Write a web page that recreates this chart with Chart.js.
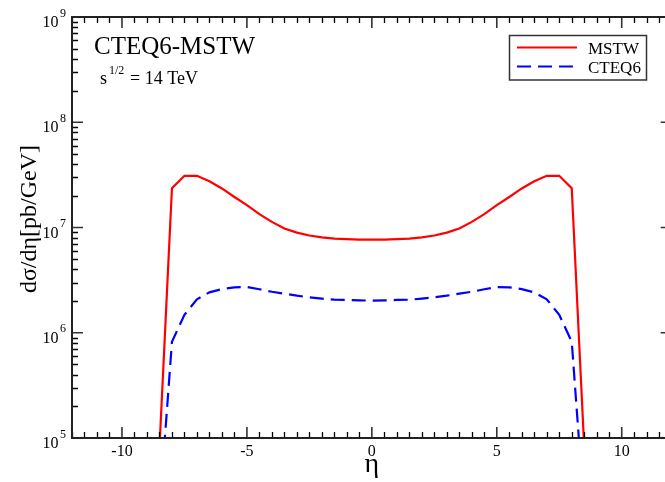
<!DOCTYPE html>
<html>
<head>
<meta charset="utf-8">
<script src="https://cdn.jsdelivr.net/npm/chart.js@4/dist/chart.umd.min.js"></script>
<style>
  html, body { margin: 0; padding: 0; background: #fff; overflow: hidden; }
  #wrap { width: 680px; height: 482px; }
</style>
</head>
<body>
<div id="wrap"><canvas id="xsec" width="680" height="482"></canvas></div>
<script>
// pseudorapidity grid and d(sigma)/d(eta) in pb/GeV
var eta = [-8.5, -8, -7.5, -7, -6.5, -6, -5.5, -5, -4.5, -4, -3.5, -3, -2.5, -2, -1.5, -1, -0.5, 0,
           0.5, 1, 1.5, 2, 2.5, 3, 3.5, 4, 4.5, 5, 5.5, 6, 6.5, 7, 7.5, 8, 8.5];
var mstw = [8e4, 2.36e7, 3.1e7, 3.1e7, 2.75e7, 2.35e7, 1.95e7, 1.63e7, 1.34e7, 1.13e7, 9.8e6, 8.95e6, 8.4e6, 8.05e6, 7.85e6, 7.75e6, 7.68e6, 7.66e6,
            7.68e6, 7.75e6, 7.85e6, 8.05e6, 8.4e6, 8.95e6, 9.8e6, 1.13e7, 1.34e7, 1.63e7, 1.95e7, 2.35e7, 2.75e7, 3.1e7, 3.1e7, 2.36e7, 8e4];
var cteq6 = [2e4, 8.2e5, 1.48e6, 2.08e6, 2.42e6, 2.6e6, 2.7e6, 2.72e6, 2.59e6, 2.45e6, 2.35e6, 2.25e6, 2.17e6, 2.11e6, 2.06e6, 2.05e6, 2.03e6, 2.02e6,
             2.03e6, 2.05e6, 2.06e6, 2.11e6, 2.17e6, 2.25e6, 2.35e6, 2.45e6, 2.59e6, 2.72e6, 2.7e6, 2.6e6, 2.42e6, 2.08e6, 1.48e6, 8.2e5, 2e4];

var xLabels = [-10, -5, 0, 5, 10];
var yDecades = [5, 6, 7, 8, 9];
var seriesNames = ['MSTW', 'CTEQ6'];

var SERIF = '"Liberation Serif", "Times New Roman", serif';

function points(ys) {
  return eta.map(function (x, i) { return { x: x, y: ys[i] }; });
}

// frame with inward ticks on all four sides, tick labels, titles and legend
var grace = {
  id: 'grace',
  afterDatasetsDraw: function (chart) {
    var ctx = chart.ctx, a = chart.chartArea;
    var xs = chart.scales.x, ys = chart.scales.y;
    ctx.save();

    function tickX(px, len) {
      ctx.beginPath();
      ctx.moveTo(px, a.bottom); ctx.lineTo(px, a.bottom - len);
      ctx.moveTo(px, a.top); ctx.lineTo(px, a.top + len);
      ctx.stroke();
    }
    function tickY(py, len) {
      ctx.beginPath();
      ctx.moveTo(a.left, py); ctx.lineTo(a.left + len, py);
      ctx.moveTo(a.right, py); ctx.lineTo(a.right - len, py);
      ctx.stroke();
    }

    ctx.strokeStyle = '#000';
    ctx.lineWidth = 1.3;
    for (var k = -24; k <= 24; k++) {
      if (k % 10 === 0) continue;
      tickX(Math.round(xs.getPixelForValue(k / 2)) + 0.5, 6);
    }
    for (var d = 5; d < 9; d++) {
      for (var m = 2; m <= 9; m++) {
        tickY(Math.round(ys.getPixelForValue(m * Math.pow(10, d))) + 0.5, 6);
      }
    }
    ctx.strokeStyle = '#333';
    ctx.lineWidth = 1.6;
    for (var j = -10; j <= 10; j += 5) tickX(xs.getPixelForValue(j), 11);
    yDecades.forEach(function (e) { tickY(ys.getPixelForValue(Math.pow(10, e)), 11); });

    ctx.strokeStyle = '#222';
    ctx.lineWidth = 2;
    ctx.strokeRect(a.left, a.top, a.right - a.left, a.bottom - a.top);

    ctx.fillStyle = '#000';
    ctx.font = '16px ' + SERIF;
    ctx.textAlign = 'center';
    ctx.textBaseline = 'alphabetic';
    xLabels.forEach(function (v) {
      ctx.fillText(v < 0 ? '-' + (-v) : String(v), xs.getPixelForValue(v), 455.5);
    });

    yDecades.forEach(function (e) {
      var py = ys.getPixelForValue(Math.pow(10, e));
      ctx.font = '16px ' + SERIF;
      ctx.textAlign = 'right';
      ctx.fillText('10', 58.5, py + 10);
      ctx.font = '12px ' + SERIF;
      ctx.textAlign = 'left';
      ctx.fillText(String(e), 60, py - 0.5);
    });

    ctx.font = '28px ' + SERIF;
    ctx.textAlign = 'center';
    ctx.fillText('\u03b7', xs.getPixelForValue(0), 472);

    ctx.save();
    ctx.translate(36, 219);
    ctx.rotate(-Math.PI / 2);
    ctx.font = '24px ' + SERIF;
    ctx.fillText('d\u03c3/d\u03b7[pb/GeV]', 0, 0);
    ctx.restore();

    ctx.textAlign = 'left';
    ctx.font = '25px ' + SERIF;
    ctx.fillText('CTEQ6-MSTW', 94, 54);
    ctx.font = '18px ' + SERIF;
    ctx.fillText('s', 100, 83.5);
    ctx.font = '12px ' + SERIF;
    ctx.fillText('1/2', 109, 74);
    ctx.font = '18px ' + SERIF;
    ctx.fillText('= 14 TeV', 130, 83.5);

    // legend
    ctx.strokeStyle = '#333';
    ctx.lineWidth = 1.5;
    ctx.strokeRect(509.5, 35.5, 137, 44.5);
    var rows = [47.5, 66.5];
    chart.data.datasets.forEach(function (ds, i) {
      ctx.strokeStyle = ds.borderColor;
      ctx.lineWidth = ds.borderWidth;
      ctx.setLineDash(ds.borderDash || []);
      ctx.beginPath();
      ctx.moveTo(517, rows[i]); ctx.lineTo(577, rows[i]);
      ctx.stroke();
      ctx.setLineDash([]);
      ctx.fillStyle = '#000';
      ctx.font = '17px ' + SERIF;
      ctx.fillText(ds.label, 588, rows[i] + 6.5);
    });

    ctx.restore();
  }
};

new Chart(document.getElementById('xsec').getContext('2d'), {
  type: 'line',
  data: {
    datasets: [
      { label: seriesNames[0], data: points(mstw), borderColor: '#ff0000', borderWidth: 2.2,
        pointRadius: 0, tension: 0, fill: false },
      { label: seriesNames[1], data: points(cteq6), borderColor: '#0000ff', borderWidth: 2.2,
        borderDash: [14, 7], pointRadius: 0, tension: 0, fill: false }
    ]
  },
  options: {
    responsive: false,
    animation: false,
    devicePixelRatio: 1,
    layout: { padding: { left: 72, top: 17, right: 8.3, bottom: 44 } },
    plugins: { legend: { display: false }, tooltip: { enabled: false } },
    scales: {
      x: { type: 'linear', min: -12, max: 12, display: false },
      y: { type: 'logarithmic', min: 1e5, max: 1e9, display: false }
    }
  },
  plugins: [grace]
});
</script>
</body>
</html>
